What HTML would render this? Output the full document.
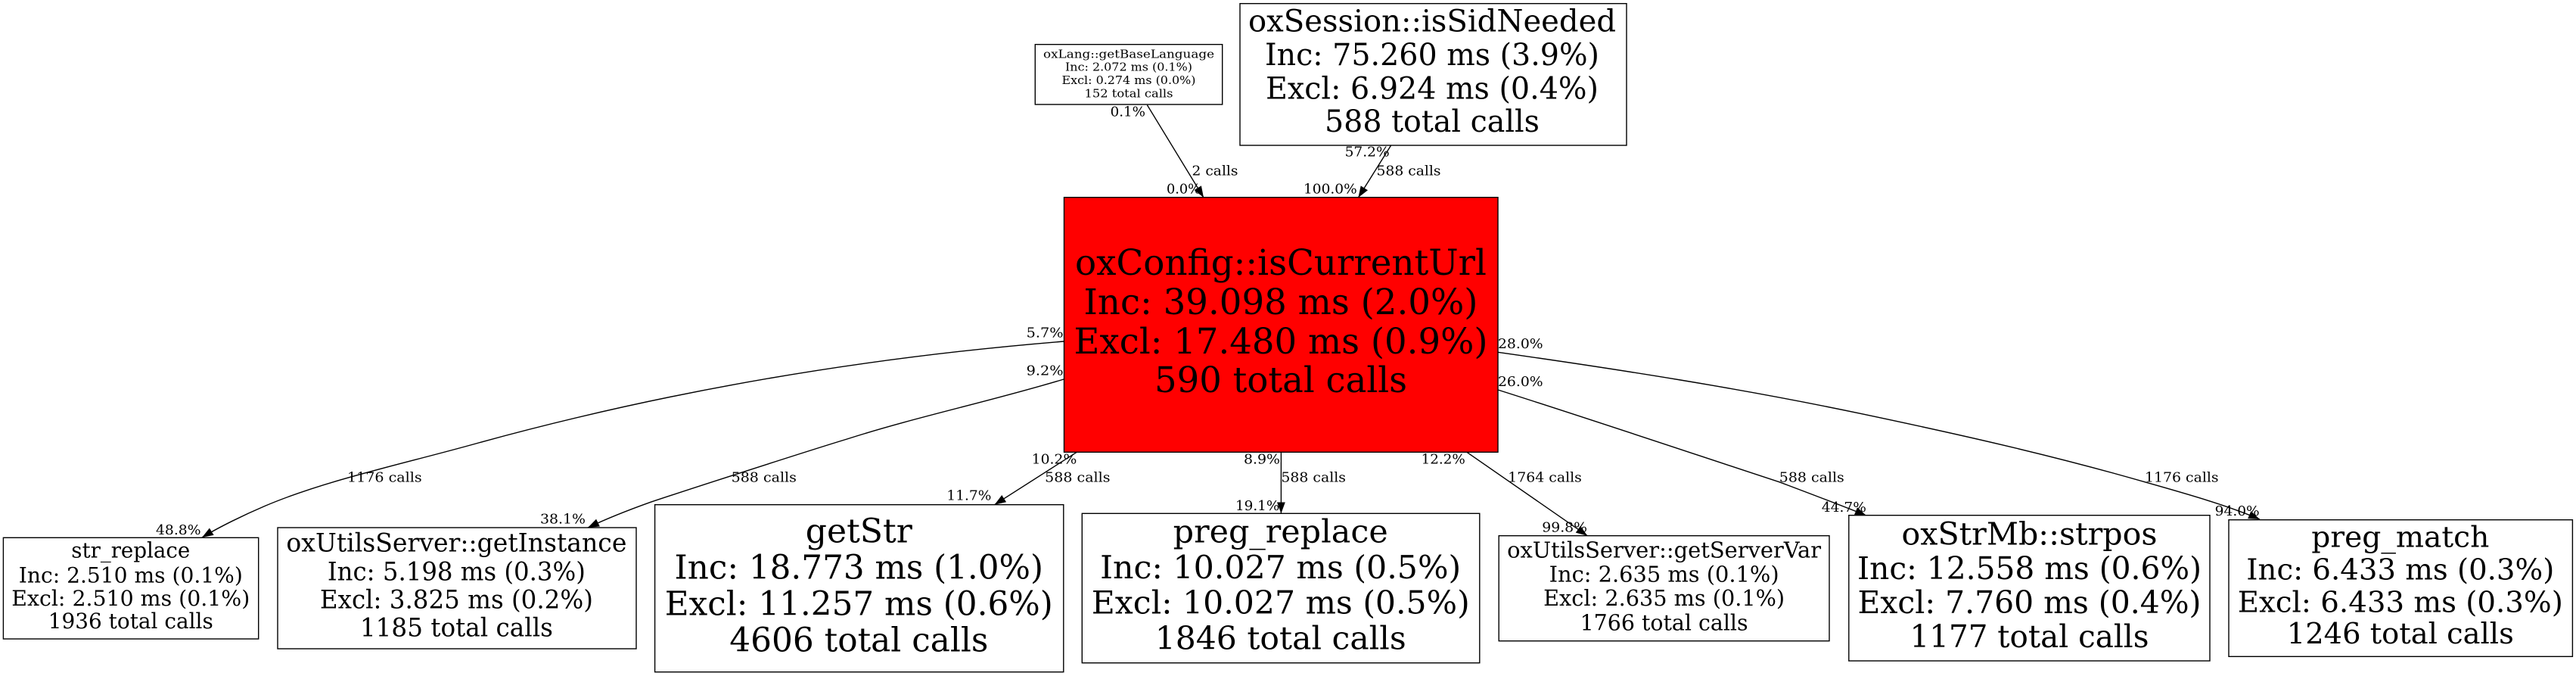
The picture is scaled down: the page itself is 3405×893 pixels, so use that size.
<!DOCTYPE html>
<html><head><meta charset="utf-8"><style>
html,body{margin:0;padding:0;background:#fff;width:3405px;height:893px;overflow:hidden}
svg{display:block}
text{font-family:"DejaVu Serif",serif;fill:#000}
.n{text-anchor:middle}
.l{font-size:18px}
rect{stroke:#000;stroke-width:1.4;fill:#fff}
path.e{fill:none;stroke:#000;stroke-width:1.4;marker-end:url(#a)}
</style></head><body>
<svg width="3405" height="893" viewBox="0 0 3405 893" xmlns="http://www.w3.org/2000/svg">
<defs><marker id="a" markerUnits="userSpaceOnUse" markerWidth="16" markerHeight="12" refX="15" refY="5.5" orient="auto"><path d="M0,0 L15,5.5 L0,11 z" fill="#000"/></marker></defs>

<path class="e" d="M1516.4,138.7 L1591,261"/>
<path class="e" d="M1838.5,192.3 L1795.4,261"/>
<path class="e" d="M1406,451 C1148,472 890.6,514 632.6,585 C536.6,612 431,634 350,668.5 C323,680 290,696 267,710"/>
<path class="e" d="M1406,501 C1310,530 1210,551 1119.6,580 C1070,595 915,645 860,663.3 C830,674 800,686 777,697"/>
<path class="e" d="M1423.3,597.3 L1314.6,666.7"/>
<path class="e" d="M1693.4,597.3 L1693.4,678.3"/>
<path class="e" d="M1938.9,597.3 L2098.2,707.7"/>
<path class="e" d="M1980,515 C2100,553 2240,600 2351.8,636.7 C2395,653 2435,668 2466.8,681"/>
<path class="e" d="M1980,465.3 C2140,488 2301,513 2461,546.7 C2586,573 2710,600.7 2835,636.7 C2885,651 2940,666 2987,686"/>

<rect x="1368.3" y="58.7" width="247.4" height="79.3"/>
<g class="n" font-size="15">
<text x="1492" y="76.7" textLength="226" lengthAdjust="spacingAndGlyphs">oxLang::getBaseLanguage</text>
<text x="1492" y="93.5" textLength="168" lengthAdjust="spacingAndGlyphs">Inc: 2.072 ms (0.1%)</text>
<text x="1492" y="111" textLength="177" lengthAdjust="spacingAndGlyphs">Excl: 0.274 ms (0.0%)</text>
<text x="1492" y="128.3" textLength="117" lengthAdjust="spacingAndGlyphs">152 total calls</text>
</g>

<rect x="1639" y="4.7" width="511" height="187.3"/>
<g class="n" font-size="40">
<text x="1893" y="41.7" textLength="486" lengthAdjust="spacingAndGlyphs">oxSession::isSidNeeded</text>
<text x="1893" y="86" textLength="442" lengthAdjust="spacingAndGlyphs">Inc: 75.260 ms (3.9%)</text>
<text x="1893" y="130.7" textLength="440" lengthAdjust="spacingAndGlyphs">Excl: 6.924 ms (0.4%)</text>
<text x="1893" y="174" textLength="284" lengthAdjust="spacingAndGlyphs">588 total calls</text>
</g>

<rect x="1406.5" y="260.7" width="573.5" height="336.6" style="fill:#ff0000"/>
<g class="n" font-size="47">
<text x="1693" y="363" textLength="544" lengthAdjust="spacingAndGlyphs">oxConfig::isCurrentUrl</text>
<text x="1693" y="415" textLength="521" lengthAdjust="spacingAndGlyphs">Inc: 39.098 ms (2.0%)</text>
<text x="1693" y="467" textLength="547" lengthAdjust="spacingAndGlyphs">Excl: 17.480 ms (0.9%)</text>
<text x="1693" y="518" textLength="334" lengthAdjust="spacingAndGlyphs">590 total calls</text>
</g>

<rect x="4.4" y="710.3" width="337.3" height="133.7"/>
<g class="n" font-size="28">
<text x="172.8" y="736.7" textLength="157" lengthAdjust="spacingAndGlyphs">str_replace</text>
<text x="172.8" y="769.3" textLength="296" lengthAdjust="spacingAndGlyphs">Inc: 2.510 ms (0.1%)</text>
<text x="172.8" y="800" textLength="315" lengthAdjust="spacingAndGlyphs">Excl: 2.510 ms (0.1%)</text>
<text x="172.8" y="830" textLength="218" lengthAdjust="spacingAndGlyphs">1936 total calls</text>
</g>

<rect x="367" y="697" width="474" height="160"/>
<g class="n" font-size="34">
<text x="603.4" y="728.3" textLength="450" lengthAdjust="spacingAndGlyphs">oxUtilsServer::getInstance</text>
<text x="603.4" y="766.7" textLength="341" lengthAdjust="spacingAndGlyphs">Inc: 5.198 ms (0.3%)</text>
<text x="603.4" y="803.3" textLength="361" lengthAdjust="spacingAndGlyphs">Excl: 3.825 ms (0.2%)</text>
<text x="603.4" y="840.7" textLength="255" lengthAdjust="spacingAndGlyphs">1185 total calls</text>
</g>

<rect x="865.6" y="666.7" width="540.2" height="221"/>
<g class="n" font-size="43.5">
<text x="1135.3" y="716.7" textLength="141" lengthAdjust="spacingAndGlyphs">getStr</text>
<text x="1135.3" y="764.3" textLength="487.5" lengthAdjust="spacingAndGlyphs">Inc: 18.773 ms (1.0%)</text>
<text x="1135.3" y="812.3" textLength="513" lengthAdjust="spacingAndGlyphs">Excl: 11.257 ms (0.6%)</text>
<text x="1135.3" y="860.7" textLength="342" lengthAdjust="spacingAndGlyphs">4606 total calls</text>
</g>

<rect x="1430.3" y="678.3" width="525.5" height="197.4"/>
<g class="n" font-size="42.5">
<text x="1692.7" y="716.7" textLength="284" lengthAdjust="spacingAndGlyphs">preg_replace</text>
<text x="1692.7" y="764" textLength="477" lengthAdjust="spacingAndGlyphs">Inc: 10.027 ms (0.5%)</text>
<text x="1692.7" y="810.7" textLength="500" lengthAdjust="spacingAndGlyphs">Excl: 10.027 ms (0.5%)</text>
<text x="1692.7" y="857.3" textLength="332" lengthAdjust="spacingAndGlyphs">1846 total calls</text>
</g>

<rect x="1981.2" y="707.7" width="436.8" height="139"/>
<g class="n" font-size="29">
<text x="2199.6" y="736.7" textLength="415" lengthAdjust="spacingAndGlyphs">oxUtilsServer::getServerVar</text>
<text x="2199.6" y="768.3" textLength="304" lengthAdjust="spacingAndGlyphs">Inc: 2.635 ms (0.1%)</text>
<text x="2199.6" y="800" textLength="319" lengthAdjust="spacingAndGlyphs">Excl: 2.635 ms (0.1%)</text>
<text x="2199.6" y="832.3" textLength="222" lengthAdjust="spacingAndGlyphs">1766 total calls</text>
</g>

<rect x="2443.8" y="680.7" width="477.2" height="192.3"/>
<g class="n" font-size="41">
<text x="2682.5" y="719.3" textLength="338" lengthAdjust="spacingAndGlyphs">oxStrMb::strpos</text>
<text x="2682.5" y="765" textLength="455" lengthAdjust="spacingAndGlyphs">Inc: 12.558 ms (0.6%)</text>
<text x="2682.5" y="810" textLength="454" lengthAdjust="spacingAndGlyphs">Excl: 7.760 ms (0.4%)</text>
<text x="2682.5" y="855" textLength="316" lengthAdjust="spacingAndGlyphs">1177 total calls</text>
</g>

<rect x="2946" y="686.7" width="454.4" height="180.6"/>
<g class="n" font-size="38.5">
<text x="3172.8" y="722.7" textLength="235" lengthAdjust="spacingAndGlyphs">preg_match</text>
<text x="3172.8" y="765.7" textLength="407" lengthAdjust="spacingAndGlyphs">Inc: 6.433 ms (0.3%)</text>
<text x="3172.8" y="808.3" textLength="430" lengthAdjust="spacingAndGlyphs">Excl: 6.433 ms (0.3%)</text>
<text x="3172.8" y="850" textLength="300" lengthAdjust="spacingAndGlyphs">1246 total calls</text>
</g>

<g class="l">
<text x="1467.6" y="153.7" textLength="46.4" lengthAdjust="spacingAndGlyphs">0.1%</text>
<text x="1575.5" y="231.7" textLength="61" lengthAdjust="spacingAndGlyphs">2 calls</text>
<text x="1542" y="255.7" textLength="45" lengthAdjust="spacingAndGlyphs">0.0%</text>
<text x="1777.6" y="206.7" textLength="59" lengthAdjust="spacingAndGlyphs">57.2%</text>
<text x="1819.5" y="231.7" textLength="85" lengthAdjust="spacingAndGlyphs">588 calls</text>
<text x="1723" y="255.7" textLength="70.7" lengthAdjust="spacingAndGlyphs">100.0%</text>
<text x="1980" y="460" textLength="59.6" lengthAdjust="spacingAndGlyphs">28.0%</text>
<text x="1980" y="510" textLength="59.6" lengthAdjust="spacingAndGlyphs">26.0%</text>
<text x="1993.3" y="636.7" textLength="97.5" lengthAdjust="spacingAndGlyphs">1764 calls</text>
<text x="2351.8" y="636.7" textLength="86" lengthAdjust="spacingAndGlyphs">588 calls</text>
<text x="2835" y="636.7" textLength="97.6" lengthAdjust="spacingAndGlyphs">1176 calls</text>
<text x="2407.9" y="676" textLength="59" lengthAdjust="spacingAndGlyphs">44.7%</text>
<text x="2927.7" y="681" textLength="59" lengthAdjust="spacingAndGlyphs">94.0%</text>
<text x="2038.3" y="702.3" textLength="59.7" lengthAdjust="spacingAndGlyphs">99.8%</text>
<text x="1878.6" y="612.3" textLength="58.2" lengthAdjust="spacingAndGlyphs">12.2%</text>
<text x="1644" y="612.3" textLength="48" lengthAdjust="spacingAndGlyphs">8.9%</text>
<text x="1363.7" y="612.3" textLength="59.6" lengthAdjust="spacingAndGlyphs">10.2%</text>
<text x="1381.2" y="636.7" textLength="86.3" lengthAdjust="spacingAndGlyphs">588 calls</text>
<text x="1693.4" y="636.7" textLength="85.6" lengthAdjust="spacingAndGlyphs">588 calls</text>
<text x="966.6" y="636.7" textLength="86.3" lengthAdjust="spacingAndGlyphs">588 calls</text>
<text x="1251.4" y="660.7" textLength="59" lengthAdjust="spacingAndGlyphs">11.7%</text>
<text x="1633" y="674" textLength="58.3" lengthAdjust="spacingAndGlyphs">19.1%</text>
<text x="1356.6" y="445.7" textLength="49" lengthAdjust="spacingAndGlyphs">5.7%</text>
<text x="1356.6" y="495.7" textLength="49" lengthAdjust="spacingAndGlyphs">9.2%</text>
<text x="459" y="636.7" textLength="98.6" lengthAdjust="spacingAndGlyphs">1176 calls</text>
<text x="714" y="691.7" textLength="60" lengthAdjust="spacingAndGlyphs">38.1%</text>
<text x="206" y="706" textLength="59.5" lengthAdjust="spacingAndGlyphs">48.8%</text>
</g>
</svg>
</body></html>
